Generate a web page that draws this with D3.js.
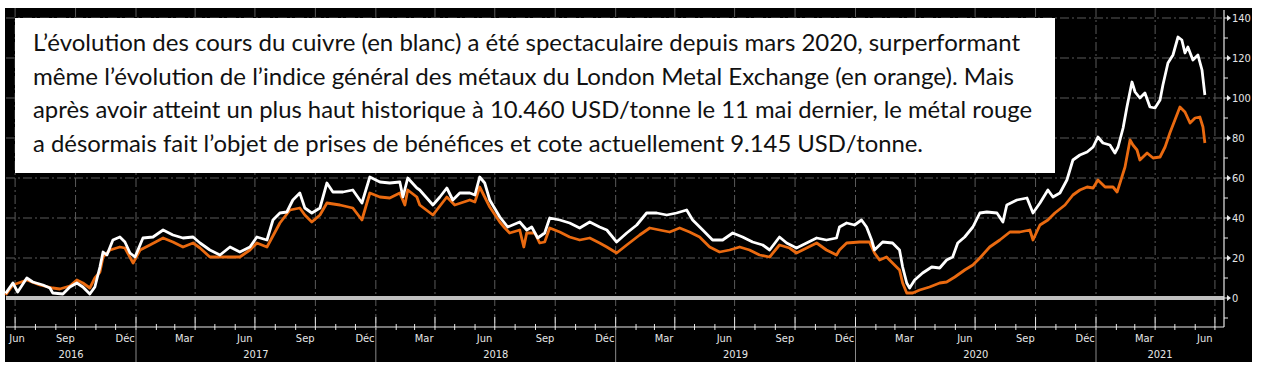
<!DOCTYPE html>
<html><head><meta charset="utf-8">
<script src="https://cdn.jsdelivr.net/npm/d3@7"></script>
<style>html,body{margin:0;padding:0;background:#fff;}svg{display:block;}</style>
</head><body>
<svg id="c" width="1261" height="368"></svg>
<script>
// ---- data (decimal year, % change) ----
const copperT = [2016.458,2016.488,2016.508,2016.546,2016.571,2016.613,2016.642,2016.654,2016.696,2016.725,2016.754,2016.779,2016.808,2016.829,2016.850,2016.863,2016.879,2016.904,2016.933,2016.954,2016.975,2016.996,
2017.029,2017.071,2017.113,2017.154,2017.196,2017.238,2017.267,2017.308,2017.350,2017.392,2017.433,2017.475,2017.504,2017.546,2017.571,2017.600,2017.629,2017.654,2017.683,2017.704,2017.733,2017.767,2017.796,2017.821,2017.863,2017.904,2017.942,2017.975,
2018.017,2018.058,2018.100,2018.113,2018.133,2018.171,2018.183,2018.238,2018.267,2018.296,2018.321,2018.350,2018.392,2018.413,2018.433,2018.454,2018.475,2018.517,2018.550,2018.600,2018.629,2018.650,2018.675,2018.704,2018.725,2018.767,2018.808,2018.850,2018.892,2018.933,2018.963,
2019.004,2019.046,2019.088,2019.129,2019.171,2019.213,2019.254,2019.296,2019.321,2019.363,2019.404,2019.446,2019.488,2019.529,2019.571,2019.613,2019.642,2019.683,2019.713,2019.754,2019.796,2019.838,2019.879,2019.921,2019.933,2019.963,2019.996,
2020.025,2020.046,2020.067,2020.079,2020.113,2020.154,2020.183,2020.196,2020.213,2020.225,2020.246,2020.279,2020.317,2020.350,2020.379,2020.404,2020.425,2020.454,2020.488,2020.517,2020.546,2020.588,2020.613,2020.629,2020.671,2020.713,2020.738,2020.767,2020.800,2020.821,2020.850,2020.879,2020.904,2020.933,2020.963,2020.988,
2021.008,2021.029,2021.058,2021.079,2021.092,2021.113,2021.129,2021.150,2021.163,2021.183,2021.204,2021.225,2021.246,2021.267,2021.279,2021.300,2021.321,2021.342,2021.358,2021.371,2021.383,2021.404,2021.425,2021.442,2021.454];
const copperV = [2.3,7.5,3,10,8,6.5,5,2.5,2,5.5,7.5,5.5,2,5.5,15.5,23,21.5,29,30.5,28,22.5,20.5,
30,30.5,34,31.5,30,30.5,27.5,24,21.5,25.5,23,25.5,30.5,29,39,42.5,43,49,52.5,45,42.5,45,57.5,53,53,54,47.5,60.5,
58,57.5,58,50.5,60,55,54,46.5,50.5,55,49,52.5,52.5,51.5,60.5,57.5,49,40.5,35.5,38,34,35.5,30,32.5,40,39,37.5,35,38,35.5,34,
28,32.5,36.5,42.5,42.5,41.5,42.5,44,39,34,29,29,32.5,30.5,28,26.5,24,30.5,27.5,25,27.5,30,29,30,35.5,37.5,36.5,
39,35.5,29,24,28,27.5,24,15.5,7.5,5,9,12.5,15.5,15,19,20.5,27.5,30.5,35.5,42.5,43,42.5,38,46.5,49,50,42.5,47.5,54,50.5,52.5,59,69,71.5,73,75.5,
80.5,77.5,76.5,72.5,75.5,85,95.5,108,103,100,102.5,95.5,95,99,106.5,117.5,121.5,130.5,129,122.5,125.5,119,121.5,114,101.5];

const lmeT = [2016.458,2016.488,2016.546,2016.600,2016.654,2016.683,2016.725,2016.754,2016.779,2016.808,2016.829,2016.850,2016.863,2016.892,2016.933,2016.954,2016.988,
2017.017,2017.058,2017.113,2017.154,2017.196,2017.238,2017.267,2017.308,2017.350,2017.433,2017.475,2017.504,2017.546,2017.600,2017.642,2017.683,2017.704,2017.733,2017.767,2017.796,2017.850,2017.904,2017.942,2017.975,
2018.017,2018.058,2018.100,2018.121,2018.133,2018.171,2018.183,2018.238,2018.296,2018.329,2018.392,2018.413,2018.433,2018.475,2018.517,2018.538,2018.558,2018.600,2018.617,2018.629,2018.663,2018.683,2018.704,2018.725,2018.767,2018.808,2018.850,2018.892,2018.933,2018.963,
2019.004,2019.046,2019.100,2019.142,2019.183,2019.225,2019.267,2019.308,2019.350,2019.392,2019.433,2019.475,2019.517,2019.558,2019.600,2019.642,2019.683,2019.725,2019.754,2019.796,2019.838,2019.879,2019.921,2019.933,2019.963,
2020.017,2020.058,2020.079,2020.100,2020.129,2020.154,2020.183,2020.196,2020.213,2020.238,2020.267,2020.308,2020.350,2020.379,2020.413,2020.454,2020.488,2020.517,2020.558,2020.600,2020.642,2020.683,2020.725,2020.738,2020.767,2020.800,2020.829,2020.871,2020.904,2020.933,2020.963,2020.988,
2021.008,2021.038,2021.071,2021.088,2021.100,2021.121,2021.142,2021.154,2021.171,2021.183,2021.213,2021.238,2021.267,2021.288,2021.308,2021.329,2021.350,2021.371,2021.392,2021.413,2021.433,2021.446,2021.454];
const lmeV = [1.5,6.5,9,6.5,5,4.5,6,9,7.5,5,10,13,20.5,24,25.5,25,17.5,
24,26.5,30,28,25.5,27.5,25,20.5,20.5,20.5,24,27.5,25.5,37.5,44,45,41.5,38,41.5,47.5,46.5,45,39,52.5,
50.5,50,52.5,46.5,54,50.5,46.5,41.5,50.5,46.5,49,48,55.5,45.5,38,35,32.5,34,25.5,32.5,32.5,27.5,28,35,33,30.5,29,30,27.5,25.5,
22.5,26.5,31.5,35,34,33,35,33,30.5,25.5,23,24,25.5,24,21.5,20.5,26.5,25,22.5,25,27.5,24,21.5,24,27.5,
28,28,22.5,19,20.5,17.5,14,7.5,2.5,2.5,4,5.5,7.5,8,10.5,14,16.5,20,25.5,29,33,33,34,29,36.5,39,42.5,46.5,51.5,54,55.5,55,
59,55.5,55.5,53,57.5,65.5,79,76.5,74,69,72.5,70,70.5,75.5,82.5,89,95.5,93,87.5,90,90.5,85.5,77.5];

const yTicks = [0,20,40,60,80,100,120,140];
const yMinor = [-10,10,30,50,70,90,110,130];
const monthNames = {2:"Mar",5:"Jun",8:"Sep",11:"Déc"};
const years = [2016,2017,2018,2019,2020,2021];
const noteLines = [
 "L’évolution des cours du cuivre (en blanc) a été spectaculaire depuis mars 2020, surperformant",
 "même l’évolution de l’indice général des métaux du London Metal Exchange (en orange). Mais",
 "après avoir atteint un plus haut historique à 10.460 USD/tonne le 11 mai dernier, le métal rouge",
 "a désormais fait l’objet de prises de bénéfices et cote actuellement 9.145 USD/tonne."
];

// ---- helpers ----
function dy(t){const y=Math.floor(t);const s=Date.UTC(y,0,1),e=Date.UTC(y+1,0,1);return new Date(s+(t-y)*(e-s));}
const svg = d3.select("#c");
const L=6, R=1224, AX=327, TOP=8;
const x = d3.scaleUtc().domain([new Date(Date.UTC(2017,0,1)), new Date(Date.UTC(2021,0,1))]).range([136,1096]);
const y = d3.scaleLinear().domain([0,140]).range([298,18]);
const axisFont = "'DejaVu Sans Condensed','Liberation Sans Narrow',sans-serif";
const gridCol = "#5a5a5a", dash = "9,3,2,3";

// background
svg.append("rect").attr("x",5).attr("y",TOP).attr("width",1247).attr("height",354).attr("fill","#000");

// horizontal gridlines
svg.append("g").selectAll("line").data(yTicks.filter(d=>d>0)).join("line")
  .attr("x1",L).attr("x2",R).attr("y1",d=>y(d)).attr("y2",d=>y(d))
  .attr("stroke",gridCol).attr("stroke-width",1).attr("stroke-dasharray",dash);

// months
const months = d3.utcMonth.range(new Date(Date.UTC(2016,5,1)), new Date(Date.UTC(2021,7,1))).filter(d=>x(d)>=L && x(d)<=R);
const quarters = months.filter(d=>d.getUTCMonth()%3===0);
svg.append("g").selectAll("line").data(quarters).join("line")
  .attr("x1",d=>x(d)).attr("x2",d=>x(d)).attr("y1",TOP).attr("y2",AX)
  .attr("stroke",gridCol).attr("stroke-width",1).attr("stroke-dasharray",dash);

// zero line
svg.append("line").attr("x1",L).attr("x2",R).attr("y1",y(0)).attr("y2",y(0))
  .attr("stroke","#bfbfbf").attr("stroke-width",4);

// series
const line = d3.line().x(d=>x(dy(d[0]))).y(d=>y(d[1]));
svg.append("path").datum(d3.zip(lmeT,lmeV)).attr("d",line)
  .attr("fill","none").attr("stroke","#ea6a10").attr("stroke-width",2.8).attr("stroke-linejoin","round");
svg.append("path").datum(d3.zip(copperT,copperV)).attr("d",line)
  .attr("fill","none").attr("stroke","#ffffff").attr("stroke-width",2.8).attr("stroke-linejoin","round");

// x axis
svg.append("line").attr("x1",L).attr("x2",R).attr("y1",AX).attr("y2",AX).attr("stroke","#e8e8e8").attr("stroke-width",1.2);
svg.append("g").selectAll("line").data(months).join("line")
  .attr("x1",d=>x(d)).attr("x2",d=>x(d)).attr("y1",d=>d.getUTCMonth()%3===0?AX-10:AX-3).attr("y2",AX+3)
  .attr("stroke","#e8e8e8").attr("stroke-width",1);
// year separators
const yearStarts = years.slice(1).map(v=>new Date(Date.UTC(v,0,1)));
svg.append("g").selectAll("line").data(yearStarts).join("line")
  .attr("x1",d=>x(d)).attr("x2",d=>x(d)).attr("y1",AX).attr("y2",362)
  .attr("stroke","#8a8a8a").attr("stroke-width",1);
// month labels
const labMonths = d3.utcMonth.range(new Date(Date.UTC(2016,5,1)), new Date(Date.UTC(2021,6,1))).filter(d=>monthNames[d.getUTCMonth()]!==undefined);
svg.append("g").selectAll("text").data(labMonths).join("text")
  .attr("x",d=>{const c=x(new Date(d.getTime()+14.5*864e5));return Math.max(c,17);})
  .attr("y",342).attr("text-anchor","middle")
  .attr("font-family",axisFont).attr("font-size",11).attr("fill","#e6e6e6")
  .text(d=>monthNames[d.getUTCMonth()]);
// year labels
svg.append("g").selectAll("text").data(years).join("text")
  .attr("x",v=>{const a=Math.max(L,x(new Date(Date.UTC(v,0,1)))),b=Math.min(R,x(new Date(Date.UTC(v+1,0,1))));return (a+b)/2;})
  .attr("y",358).attr("text-anchor","middle")
  .attr("font-family",axisFont).attr("font-size",11).attr("fill","#e6e6e6")
  .text(v=>v);

// right axis
svg.append("line").attr("x1",R).attr("x2",R).attr("y1",TOP+2).attr("y2",AX).attr("stroke","#e8e8e8").attr("stroke-width",1.2);
svg.append("g").selectAll("path").data(yTicks).join("path")
  .attr("d",d=>`M${R},${y(d)-0.6}L${R+3},${y(d)-0.6}L${R+3},${y(d)-3}L${R+7},${y(d)}L${R+3},${y(d)+3}L${R+3},${y(d)+0.6}L${R},${y(d)+0.6}Z`)
  .attr("fill","#e8e8e8");
svg.append("g").selectAll("line").data(yMinor).join("line")
  .attr("x1",R).attr("x2",R+4).attr("y1",d=>y(d)).attr("y2",d=>y(d)).attr("stroke","#e8e8e8").attr("stroke-width",1);
svg.append("g").selectAll("text").data(yTicks).join("text")
  .attr("x",R+8).attr("y",d=>y(d)+4).attr("font-family",axisFont).attr("font-size",11).attr("fill","#e6e6e6")
  .text(d=>d);

// note box
svg.append("rect").attr("x",15).attr("y",18).attr("width",1040).attr("height",155).attr("fill","#fff");
const lens=[987,981,999,890];
svg.append("g").selectAll("text").data(noteLines).join("text")
  .attr("x",33).attr("y",(d,i)=>51+i*33.7)
  .attr("font-family","Lato,'Open Sans',sans-serif").attr("font-size",23).attr("fill","#111")
  .attr("textLength",(d,i)=>lens[i]).attr("lengthAdjust","spacingAndGlyphs")
  .text(d=>d);
</script>
</body></html>
